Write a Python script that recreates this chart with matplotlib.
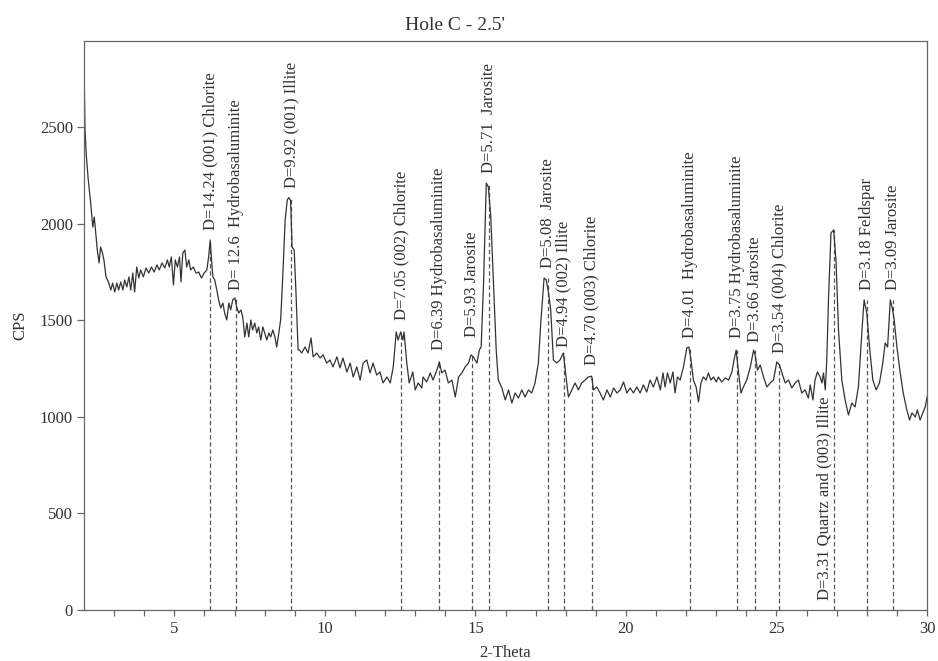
import matplotlib
matplotlib.use("Agg")
import matplotlib.pyplot as plt

plt.rcParams['font.family'] = ['Liberation Serif', 'DejaVu Serif']

# Diffraction scan: 2-theta (degrees) and intensity (counts per second)
two_theta = [
    2.00, 2.03, 2.07, 2.14, 2.22, 2.29, 2.34, 2.39, 2.44, 2.50, 2.55, 2.61, 2.66, 2.73, 2.81,
    2.89, 2.95, 3.02, 3.09, 3.15, 3.22, 3.29, 3.35, 3.42, 3.49, 3.55, 3.62, 3.68, 3.75, 3.82,
    3.88, 3.97, 4.06, 4.15, 4.24, 4.33, 4.42, 4.50, 4.59, 4.68, 4.77, 4.83, 4.90, 4.97, 5.03,
    5.10, 5.17, 5.22, 5.28, 5.35, 5.41, 5.48, 5.54, 5.63, 5.72, 5.81, 5.90, 5.99, 6.08, 6.14,
    6.19, 6.24, 6.28, 6.34, 6.41, 6.47, 6.54, 6.61, 6.67, 6.74, 6.81, 6.87, 6.94, 7.01, 7.07,
    7.14, 7.21, 7.27, 7.34, 7.41, 7.47, 7.54, 7.60, 7.67, 7.74, 7.80, 7.87, 7.94, 8.00, 8.07,
    8.14, 8.20, 8.27, 8.34, 8.40, 8.47, 8.53, 8.60, 8.68, 8.75, 8.80, 8.86, 8.91, 8.98, 9.04,
    9.11, 9.15, 9.23, 9.34, 9.44, 9.54, 9.61, 9.73, 9.84, 9.94, 10.06, 10.17, 10.27, 10.40, 10.50,
    10.60, 10.73, 10.84, 10.94, 11.06, 11.17, 11.27, 11.39, 11.50, 11.60, 11.72, 11.83, 11.93, 12.06, 12.17,
    12.27, 12.37, 12.43, 12.52, 12.59, 12.63, 12.72, 12.80, 12.92, 13.00, 13.10, 13.22, 13.26, 13.38, 13.50,
    13.59, 13.72, 13.80, 13.88, 13.99, 14.10, 14.22, 14.33, 14.44, 14.55, 14.66, 14.77, 14.85, 14.93, 15.05,
    15.13, 15.19, 15.27, 15.36, 15.43, 15.51, 15.60, 15.69, 15.76, 15.88, 15.99, 16.10, 16.21, 16.32, 16.43,
    16.54, 16.65, 16.76, 16.87, 16.98, 17.09, 17.17, 17.28, 17.35, 17.43, 17.50, 17.59, 17.70, 17.81, 17.92,
    18.01, 18.09, 18.20, 18.31, 18.42, 18.53, 18.64, 18.75, 18.86, 18.92, 19.03, 19.14, 19.25, 19.37, 19.48,
    19.59, 19.70, 19.81, 19.92, 20.03, 20.14, 20.25, 20.36, 20.47, 20.58, 20.69, 20.80, 20.91, 21.03, 21.14,
    21.23, 21.30, 21.38, 21.47, 21.56, 21.63, 21.71, 21.80, 21.91, 22.02, 22.09, 22.16, 22.24, 22.33, 22.41,
    22.49, 22.57, 22.66, 22.74, 22.82, 22.91, 23.00, 23.07, 23.18, 23.30, 23.41, 23.52, 23.59, 23.66, 23.74,
    23.82, 23.90, 24.01, 24.13, 24.24, 24.29, 24.37, 24.46, 24.57, 24.68, 24.79, 24.90, 25.01, 25.10, 25.18,
    25.29, 25.40, 25.51, 25.62, 25.73, 25.84, 25.95, 26.06, 26.12, 26.21, 26.28, 26.36, 26.45, 26.51, 26.56,
    26.62, 26.67, 26.73, 26.81, 26.90, 26.98, 27.06, 27.17, 27.28, 27.39, 27.50, 27.61, 27.72, 27.84, 27.91,
    28.00, 28.09, 28.20, 28.31, 28.42, 28.53, 28.61, 28.69, 28.78, 28.84, 28.91, 29.00, 29.11, 29.21, 29.33,
    29.42, 29.50, 29.61, 29.68, 29.77, 29.86, 29.94, 30.00,
]
cps = [
    2800, 2500, 2365, 2226, 2107, 1982, 2034, 1951, 1863, 1796, 1879, 1848, 1812, 1724, 1698,
    1656, 1692, 1646, 1692, 1656, 1698, 1656, 1708, 1672, 1724, 1656, 1744, 1646, 1775, 1718,
    1760, 1724, 1770, 1744, 1775, 1749, 1786, 1760, 1796, 1770, 1812, 1775, 1827, 1682, 1812,
    1775, 1827, 1698, 1848, 1863, 1775, 1812, 1760, 1775, 1744, 1749, 1718, 1744, 1760, 1830,
    1915, 1800, 1724, 1708, 1656, 1605, 1563, 1589, 1537, 1501, 1589, 1553, 1605, 1615, 1568,
    1537, 1553, 1517, 1413, 1485, 1413, 1501, 1449, 1485, 1434, 1465, 1397, 1465, 1434, 1397,
    1434, 1413, 1449, 1413, 1361, 1434, 1501, 1724, 2019, 2122, 2135, 2120, 1879, 1863, 1641,
    1346, 1346, 1330, 1361, 1330, 1408, 1310, 1330, 1304, 1320, 1278, 1294, 1258, 1310, 1253,
    1304, 1232, 1278, 1206, 1258, 1190, 1278, 1294, 1227, 1278, 1216, 1232, 1175, 1206, 1175,
    1258, 1439, 1397, 1439, 1397, 1439, 1278, 1175, 1232, 1139, 1175, 1149, 1206, 1180, 1227,
    1190, 1242, 1284, 1227, 1242, 1175, 1190, 1102, 1206, 1227, 1258, 1278, 1320, 1310, 1278,
    1346, 1361, 1692, 2210, 2189, 2034, 1692, 1346, 1190, 1149, 1087, 1139, 1071, 1123, 1097,
    1139, 1102, 1139, 1123, 1175, 1278, 1485, 1718, 1708, 1641, 1553, 1294, 1278, 1294, 1330,
    1206, 1102, 1139, 1175, 1139, 1175, 1190, 1206, 1210, 1139, 1154, 1123, 1087, 1139, 1102,
    1149, 1123, 1139, 1180, 1123, 1149, 1123, 1154, 1123, 1165, 1128, 1190, 1154, 1206, 1139,
    1227, 1154, 1227, 1175, 1232, 1123, 1206, 1190, 1258, 1356, 1361, 1294, 1190, 1154, 1077,
    1175, 1206, 1190, 1227, 1190, 1206, 1180, 1206, 1180, 1201, 1190, 1232, 1294, 1345, 1227,
    1123, 1154, 1190, 1258, 1345, 1320, 1242, 1268, 1206, 1154, 1175, 1190, 1284, 1268, 1227,
    1175, 1190, 1149, 1175, 1190, 1123, 1139, 1097, 1165, 1087, 1190, 1232, 1206, 1175, 1227,
    1139, 1294, 1620, 1951, 1967, 1796, 1449, 1190, 1087, 1009, 1071, 1051, 1154, 1449, 1605,
    1537, 1361, 1190, 1139, 1175, 1278, 1382, 1361, 1605, 1568, 1501, 1361, 1227, 1123, 1035,
    983, 1020, 999, 1035, 983, 1020, 1051, 1102,
]

# Identified reflections: 2-theta position, label base height (CPS), annotation
peak_2theta = [6.20, 7.05, 8.88, 12.54, 13.80, 14.90, 15.45, 17.42, 17.93, 18.86,
               22.12, 23.68, 24.27, 25.08, 26.90, 28.01, 28.87]
peak_top_cps = [1915, 1615, 2135, 1439, 1284, 1320, 2210, 1718, 1330, 1210,
                1361, 1345, 1345, 1284, 1967, 1605, 1605]
peak_label_cps = [1967, 1656, 2184, 1500, 1346, 1413, 2262, 1770, 1361, 1268,
                  1408, 1408, 1387, 1330, 52, 1656, 1656]
peak_labels = [
    "D=14.24 (001) Chlorite",
    "D= 12.6  Hydrobasaluminite",
    "D=9.92 (001) Illite",
    "D=7.05 (002) Chlorite",
    "D=6.39 Hydrobasaluminite",
    "D=5.93 Jarosite",
    "D=5.71  Jarosite",
    "D=5.08  Jarosite",
    "D=4.94 (002) Illite",
    "D=4.70 (003) Chlorite",
    "D=4.01  Hydrobasaluminite",
    "D=3.75 Hydrobasaluminite",
    "D=3.66 Jarosite",
    "D=3.54 (004) Chlorite",
    "D=3.31 Quartz and (003) Illite",
    "D=3.18 Feldspar",
    "D=3.09 Jarosite",
]

ink = "#333333"
frame = "#666666"

fig = plt.figure(figsize=(9.38, 6.61), dpi=100)
ax = fig.add_axes([0.0896, 0.0772, 0.8987, 0.8608])

# marker lines first, so the scan trace sits on top
for x, ytop, yl, lab in zip(peak_2theta, peak_top_cps, peak_label_cps, peak_labels):
    ax.vlines(x, 0, ytop, colors="#555555", linestyles=(0, (3.5, 2.2)), lw=0.9)
    if yl < ytop:
        # label sits beside the marker line, near the baseline
        ax.text(x - 0.05, yl, lab, rotation=90, ha="right", va="bottom",
                fontsize=12, color=ink)
    else:
        ax.text(x, yl, lab, rotation=90, ha="center", va="bottom",
                fontsize=12, color=ink)

ax.plot(two_theta, cps, color=ink, lw=0.9)

ax.set_xlim(2, 30)
ax.set_ylim(0, 2945)
ax.set_xticks([5, 10, 15, 20, 25, 30])
ax.set_xticks(range(3, 30), minor=True)
ax.set_yticks([0, 500, 1000, 1500, 2000, 2500])
ax.tick_params(axis="both", which="both", direction="out", colors=frame,
               labelcolor=ink, labelsize=12, width=0.9)
ax.tick_params(axis="y", length=5, pad=3)
ax.tick_params(axis="x", which="both", length=4, pad=4)

for s in ax.spines.values():
    s.set_color(frame)
    s.set_linewidth(0.9)

ax.set_xlabel("2-Theta", fontsize=12, color=ink, labelpad=6)
ax.set_ylabel("CPS", fontsize=12, color=ink, labelpad=8)

fig.text(0.485, 0.975, "Hole C - 2.5'", ha="center", va="top", fontsize=14, color=ink)

fig.savefig("out.png", dpi=100, facecolor="white")
